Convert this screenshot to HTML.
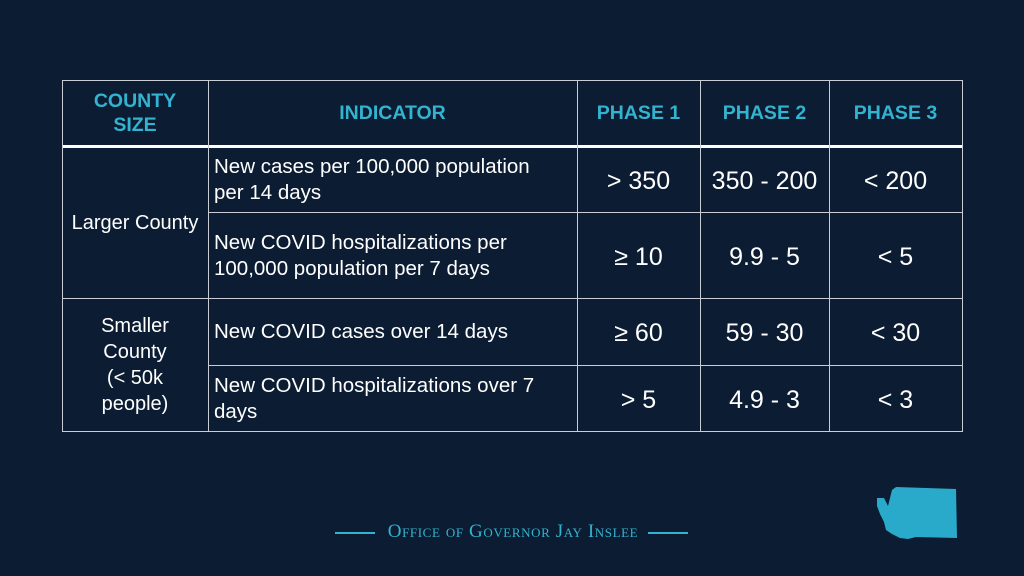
<!DOCTYPE html><html><head><style>
body{margin:0;width:1024px;height:576px;background:#0c1d33;overflow:hidden;position:relative;font-family:"Liberation Sans",sans-serif}
.l{position:absolute;background:#c9ced6}
.t{position:absolute;display:flex;align-items:center;justify-content:center;text-align:center;color:#fff;font-size:19px;line-height:26px}
.h{color:#33b3cf;font-weight:bold;font-size:19.5px;line-height:24px}
.ind{justify-content:flex-start;text-align:left;padding-left:6px;font-size:20.5px;white-space:nowrap}
.v{font-size:25px;padding-top:2px;box-sizing:border-box}
</style></head><body>
<div class="l" style="left:62px;top:80px;width:900px;height:1px"></div>
<div class="l" style="left:62px;top:145px;width:900px;height:3px;background:#fff"></div>
<div class="l" style="left:208px;top:212px;width:754px;height:1px"></div>
<div class="l" style="left:62px;top:298px;width:900px;height:1px"></div>
<div class="l" style="left:208px;top:365px;width:754px;height:1px"></div>
<div class="l" style="left:62px;top:431px;width:900px;height:1px"></div>
<div class="l" style="left:62px;top:80px;width:1px;height:352px"></div>
<div class="l" style="left:208px;top:80px;width:1px;height:352px"></div>
<div class="l" style="left:577px;top:80px;width:1px;height:352px"></div>
<div class="l" style="left:700px;top:80px;width:1px;height:352px"></div>
<div class="l" style="left:829px;top:80px;width:1px;height:352px"></div>
<div class="l" style="left:962px;top:80px;width:1px;height:352px"></div>
<div class="t h" style="left:62px;top:80px;width:146px;height:66px">COUNTY<br>SIZE</div>
<div class="t h" style="left:208px;top:80px;width:369px;height:66px">INDICATOR</div>
<div class="t h" style="left:577px;top:80px;width:123px;height:66px">PHASE 1</div>
<div class="t h" style="left:700px;top:80px;width:129px;height:66px">PHASE 2</div>
<div class="t h" style="left:829px;top:80px;width:133px;height:66px">PHASE 3</div>
<div class="t" style="left:62px;top:148px;width:146px;height:150px;font-size:20px">Larger County</div>
<div class="t" style="left:62px;top:299px;width:146px;height:132px;font-size:20px">Smaller<br>County<br>(&lt; 50k<br>people)</div>
<div class="t ind" style="left:208px;top:148px;width:363px;height:64px">New cases per 100,000 population<br>per 14 days</div>
<div class="t ind" style="left:208px;top:213px;width:363px;height:85px">New COVID hospitalizations per<br>100,000 population per 7 days</div>
<div class="t ind" style="left:208px;top:299px;width:363px;height:66px">New COVID cases over 14 days</div>
<div class="t ind" style="left:208px;top:366px;width:363px;height:65px">New COVID hospitalizations over 7<br>days</div>
<div class="t v" style="left:577px;top:148px;width:123px;height:64px">&gt; 350</div>
<div class="t v" style="left:700px;top:148px;width:129px;height:64px">350 - 200</div>
<div class="t v" style="left:829px;top:148px;width:133px;height:64px">&lt; 200</div>
<div class="t v" style="left:577px;top:213px;width:123px;height:85px">≥ 10</div>
<div class="t v" style="left:700px;top:213px;width:129px;height:85px">9.9 - 5</div>
<div class="t v" style="left:829px;top:213px;width:133px;height:85px">&lt; 5</div>
<div class="t v" style="left:577px;top:299px;width:123px;height:66px">≥ 60</div>
<div class="t v" style="left:700px;top:299px;width:129px;height:66px">59 - 30</div>
<div class="t v" style="left:829px;top:299px;width:133px;height:66px">&lt; 30</div>
<div class="t v" style="left:577px;top:366px;width:123px;height:65px">&gt; 5</div>
<div class="t v" style="left:700px;top:366px;width:129px;height:65px">4.9 - 3</div>
<div class="t v" style="left:829px;top:366px;width:133px;height:65px">&lt; 3</div>
<div style="position:absolute;left:335px;top:532px;width:40px;height:2px;background:#33b3cf"></div>
<div style="position:absolute;left:379px;top:521px;width:268px;text-align:center;color:#33b3cf;font-family:'Liberation Serif',serif;font-size:19px;font-variant:small-caps;letter-spacing:0.6px;white-space:nowrap">Office of Governor Jay Inslee</div>
<div style="position:absolute;left:648px;top:532px;width:40px;height:2px;background:#33b3cf"></div>
<svg style="position:absolute;left:874px;top:486px" width="84" height="56" viewBox="0 0 84 56">
<path d="M3 12 L10 12 L14 20 L16 12 L18 4 L22 1 L82 3 L83 52 L42 51 L34 53 L26 52 L18 48 L12 44 L10 36 L6 28 L3 20 Z" fill="#2aaacb"/>
</svg>
</body></html>
